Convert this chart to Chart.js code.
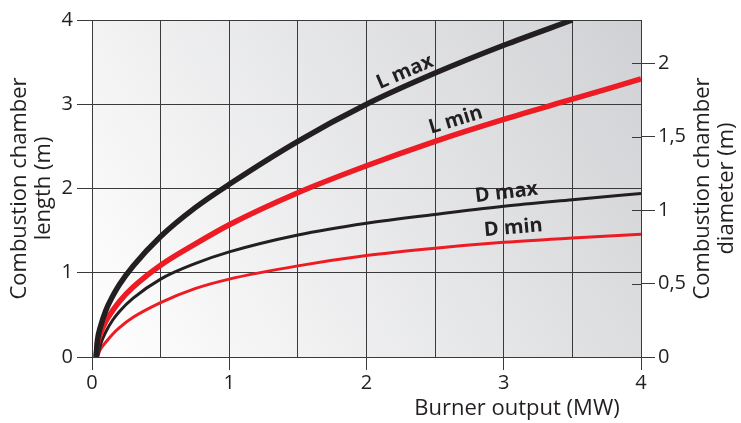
<!DOCTYPE html>
<html>
<head>
<meta charset="utf-8">
<script src="https://cdn.jsdelivr.net/npm/chart.js@4.4.0/dist/chart.umd.min.js"></script>
<style>
  html, body { margin: 0; padding: 0; background: #fff; }
  #wrap { width: 741px; height: 423px; }
</style>
</head>
<body>
<div id="wrap"><canvas id="chart" width="741" height="423"></canvas></div>
<script>
// burner output (MW) and the four curves
const burnerOutput = [0.03, 0.04, 0.06, 0.1, 0.15, 0.2, 0.3, 0.5, 0.75, 1, 1.5, 2, 2.5, 3, 3.5, 4];
const lengthMax = [0, 0.2, 0.35, 0.55, 0.72, 0.86, 1.08, 1.43, 1.77, 2.05, 2.56, 3.0, 3.37, 3.7, 4.0, null];
const lengthMin = [0, 0.16, 0.27, 0.42, 0.55, 0.66, 0.83, 1.09, 1.34, 1.57, 1.95, 2.27, 2.56, 2.82, 3.06, 3.3];
const diameterMax = [null, 0, 0.08, 0.17, 0.25, 0.31, 0.4, 0.53, 0.635, 0.715, 0.83, 0.91, 0.97, 1.025, 1.07, 1.113];
const diameterMin = [null, 0, 0.05, 0.1, 0.155, 0.2, 0.27, 0.37, 0.465, 0.53, 0.62, 0.69, 0.74, 0.78, 0.81, 0.835];

const curveNames = ['L max', 'L min', 'D max', 'D min'];

const ink = '#231f20';
const red = '#ed1c24';
const gridColor = '#3a3a3a';
const fontFamily = '"Open Sans", "Noto Sans", sans-serif';

// where the curve names sit (x in MW, y in left-axis units) and their tilt
const nameSpots = [
  { x: 2.28, y: 3.38, angle: -23 },
  { x: 2.65, y: 2.81, angle: -17 },
  { x: 3.02, y: 1.95, angle: -7 },
  { x: 3.07, y: 1.53, angle: -5 }
];

function points(values) {
  return burnerOutput.map((x, i) => ({ x: x, y: values[i] }));
}

function decimalComma(v) {
  return String(v).replace('.', ',');
}

const decorations = {
  id: 'decorations',
  beforeDraw(chart) {
    const { ctx, chartArea: a } = chart;
    const g = ctx.createLinearGradient(a.left, a.bottom, a.right, a.top);
    g.addColorStop(0, '#ffffff');
    g.addColorStop(1, '#d0d1d4');
    ctx.save();
    ctx.fillStyle = g;
    ctx.fillRect(a.left, a.top, a.right - a.left, a.bottom - a.top);
    ctx.restore();
  },
  afterDraw(chart) {
    const { ctx, chartArea: a, scales } = chart;
    ctx.save();

    // right axis ticks also poke into the plot
    ctx.strokeStyle = gridColor;
    ctx.lineWidth = 1;
    scales.y2.ticks.forEach(t => {
      const y = Math.round(scales.y2.getPixelForValue(t.value)) + 0.5;
      ctx.beginPath();
      ctx.moveTo(a.right - 9, y);
      ctx.lineTo(a.right, y);
      ctx.stroke();
    });

    // curve names
    ctx.fillStyle = ink;
    ctx.font = 'bold 20px ' + fontFamily;
    ctx.textAlign = 'center';
    ctx.textBaseline = 'middle';
    curveNames.forEach((name, i) => {
      const s = nameSpots[i];
      ctx.save();
      ctx.translate(scales.x.getPixelForValue(s.x), scales.y.getPixelForValue(s.y));
      ctx.rotate(s.angle * Math.PI / 180);
      ctx.fillText(name, 0, 0);
      ctx.restore();
    });

    // axis titles
    ctx.font = '22px ' + fontFamily;
    ctx.fillStyle = ink;
    ctx.fillText('Burner output (MW)', 517, 409);

    const midY = (a.top + a.bottom) / 2;
    [[20, 'Combustion chamber'], [44, 'length (m)'],
     [703, 'Combustion chamber'], [727, 'diameter (m)']].forEach(([x, text]) => {
      ctx.save();
      ctx.translate(x, midY);
      ctx.rotate(-Math.PI / 2);
      ctx.fillText(text, 0, 0);
      ctx.restore();
    });

    ctx.restore();
  }
};

const chart = new Chart(document.getElementById('chart'), {
  type: 'line',
  data: {
    datasets: [
      { label: curveNames[0], data: points(lengthMax), yAxisID: 'y', borderColor: ink, borderWidth: 5.5 },
      { label: curveNames[1], data: points(lengthMin), yAxisID: 'y', borderColor: red, borderWidth: 5.5 },
      { label: curveNames[2], data: points(diameterMax), yAxisID: 'y2', borderColor: ink, borderWidth: 3 },
      { label: curveNames[3], data: points(diameterMin), yAxisID: 'y2', borderColor: red, borderWidth: 3 }
    ]
  },
  options: {
    responsive: false,
    animation: false,
    devicePixelRatio: 1,
    layout: { padding: { top: 20, left: 0, right: 0, bottom: 0 } },
    elements: {
      point: { radius: 0 },
      line: { cubicInterpolationMode: 'monotone', fill: false, borderCapStyle: 'butt' }
    },
    plugins: {
      legend: { display: false },
      tooltip: { enabled: false }
    },
    scales: {
      x: {
        type: 'linear',
        min: 0,
        max: 4,
        afterFit(s) { s.height = 66; },
        border: { color: gridColor, width: 1 },
        grid: {
          color: gridColor,
          tickLength: 13,
          tickColor: ctx => (ctx.tick && Number.isInteger(ctx.tick.value)) ? gridColor : 'rgba(0,0,0,0)'
        },
        ticks: {
          stepSize: 0.5,
          color: ink,
          padding: 1,
          maxRotation: 0,
          font: { size: 20, family: fontFamily },
          callback: v => Number.isInteger(v) ? String(v) : ''
        }
      },
      y: {
        position: 'left',
        min: 0,
        max: 4,
        afterFit(s) { s.width = 92; },
        border: { color: gridColor, width: 1 },
        grid: { color: gridColor, tickLength: 15 },
        ticks: {
          stepSize: 1,
          color: ink,
          padding: 4,
          font: { size: 20, family: fontFamily }
        }
      },
      y2: {
        position: 'right',
        min: 0,
        max: 2.293,
        afterFit(s) { s.width = 100; },
        border: { color: gridColor, width: 1 },
        grid: { drawOnChartArea: false, color: gridColor, tickLength: 14 },
        ticks: {
          stepSize: 0.5,
          includeBounds: false,
          color: ink,
          padding: 3,
          font: { size: 20, family: fontFamily },
          callback: v => decimalComma(v)
        }
      }
    }
  },
  plugins: [decorations]
});
</script>
</body>
</html>
